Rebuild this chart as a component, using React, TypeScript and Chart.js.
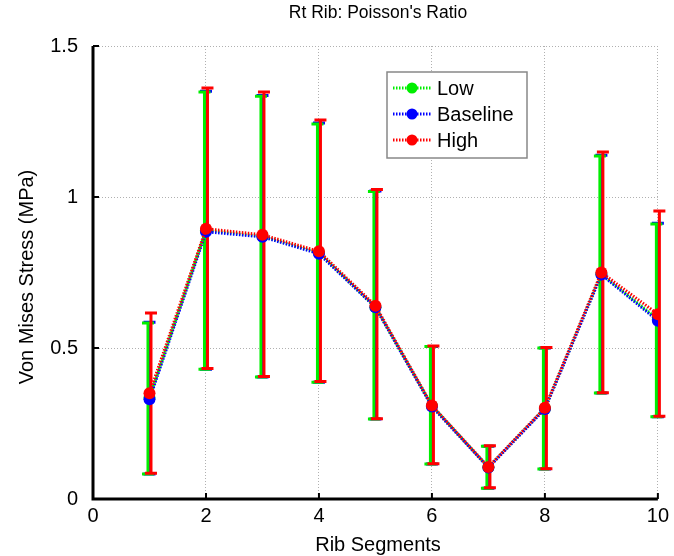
import React, { useEffect, useRef } from "react";
import { Chart, registerables } from "chart.js";

Chart.register(...registerables);

const segments = [1, 2, 3, 4, 5, 6, 7, 8, 9, 10];

const lowValues = [0.335, 0.89, 0.87, 0.815, 0.635, 0.308, 0.105, 0.3, 0.745, 0.595];
const baselineValues = [0.33, 0.885, 0.868, 0.812, 0.635, 0.306, 0.104, 0.298, 0.743, 0.59];
const highValues = [0.35, 0.895, 0.875, 0.82, 0.64, 0.31, 0.106, 0.302, 0.75, 0.612];

const lowUpper = [0.583, 1.348, 1.334, 1.242, 1.018, 0.505, 0.175, 0.5, 1.136, 0.911];
const lowLower = [0.083, 0.43, 0.404, 0.387, 0.265, 0.116, 0.036, 0.099, 0.351, 0.272];
const baselineUpper = [0.585, 1.35, 1.336, 1.245, 1.02, 0.505, 0.175, 0.5, 1.138, 0.913];
const baselineLower = [0.083, 0.43, 0.404, 0.387, 0.265, 0.116, 0.036, 0.099, 0.351, 0.272];
const highUpper = [0.616, 1.361, 1.348, 1.255, 1.025, 0.507, 0.176, 0.502, 1.149, 0.954];
const highLower = [0.085, 0.432, 0.406, 0.389, 0.266, 0.117, 0.037, 0.1, 0.352, 0.274];

const xTicks = [0, 2, 4, 6, 8, 10];
const yTicks = [0, 0.5, 1, 1.5];

const FONT = "'Liberation Sans', Arial, sans-serif";

const seriesStyle = [
  { label: "Low", color: "#00ee00", values: lowValues, upper: lowUpper, lower: lowLower, off: -1.5, order: 2 },
  { label: "Baseline", color: "#0000ff", values: baselineValues, upper: baselineUpper, lower: baselineLower, off: 0, order: 1 },
  { label: "High", color: "#ff0000", values: highValues, upper: highUpper, lower: highLower, off: 1.5, order: 0 },
];

const barDrawOrder = [1, 0, 2];

const decorPlugin = {
  id: "decor",
  beforeDatasetsDraw(chart: any) {
    const { ctx, scales } = chart;
    const xs = scales.x;
    const ys = scales.y;
    ctx.save();
    barDrawOrder.forEach((k) => {
      const s = seriesStyle[k];
      ctx.strokeStyle = s.color;
      ctx.lineWidth = 3;
      segments.forEach((seg, i) => {
        const px = xs.getPixelForValue(seg) + s.off;
        const top = ys.getPixelForValue(s.upper[i]);
        const bot = ys.getPixelForValue(s.lower[i]);
        ctx.beginPath();
        ctx.moveTo(px, top);
        ctx.lineTo(px, bot);
        ctx.moveTo(px - 6, top);
        ctx.lineTo(px + 6, top);
        ctx.moveTo(px - 6, bot);
        ctx.lineTo(px + 6, bot);
        ctx.stroke();
      });
    });
    ctx.restore();
  },
  afterDraw(chart: any) {
    const { ctx, chartArea, scales } = chart;
    const xs = scales.x;
    const ys = scales.y;
    ctx.save();
    ctx.strokeStyle = "#000";
    ctx.lineWidth = 2;
    xTicks.forEach((t) => {
      const px = xs.getPixelForValue(t);
      ctx.beginPath();
      ctx.moveTo(px, chartArea.bottom);
      ctx.lineTo(px, chartArea.bottom - 6);
      ctx.stroke();
    });
    yTicks.forEach((t) => {
      const py = ys.getPixelForValue(t);
      ctx.beginPath();
      ctx.moveTo(chartArea.left, py);
      ctx.lineTo(chartArea.left + 6, py);
      ctx.stroke();
    });
    ctx.lineWidth = 3;
    ctx.beginPath();
    ctx.moveTo(chartArea.left, chartArea.top);
    ctx.lineTo(chartArea.left, chartArea.bottom);
    ctx.lineTo(chartArea.right, chartArea.bottom);
    ctx.stroke();

    ctx.fillStyle = "#000";
    ctx.font = `17.5px ${FONT}`;
    ctx.textAlign = "center";
    ctx.textBaseline = "middle";
    ctx.fillText("Rt Rib: Poisson's Ratio", 378, 13);
    ctx.font = `20px ${FONT}`;
    ctx.fillText("Rib Segments", 378, 545);
    ctx.save();
    ctx.translate(27, 277);
    ctx.rotate(-Math.PI / 2);
    ctx.fillText("Von Mises Stress (MPa)", 0, 0);
    ctx.restore();

    const lx = 387, ly = 72, lw = 140, lh = 86;
    ctx.fillStyle = "#fff";
    ctx.fillRect(lx, ly, lw, lh);
    ctx.strokeStyle = "#888";
    ctx.lineWidth = 1.5;
    ctx.strokeRect(lx, ly, lw, lh);
    seriesStyle.forEach((s, i) => {
      const cy = 88 + i * 26;
      ctx.strokeStyle = s.color;
      ctx.lineWidth = 3;
      ctx.setLineDash([1.5, 1.5]);
      ctx.beginPath();
      ctx.moveTo(393, cy);
      ctx.lineTo(432, cy);
      ctx.stroke();
      ctx.setLineDash([]);
      ctx.fillStyle = s.color;
      ctx.beginPath();
      ctx.arc(412, cy, 5.5, 0, Math.PI * 2);
      ctx.fill();
      ctx.fillStyle = "#000";
      ctx.font = `20px ${FONT}`;
      ctx.textAlign = "left";
      ctx.fillText(s.label, 437, cy + 1);
    });
    ctx.restore();
  },
};

export default function App() {
  const canvasRef = useRef<HTMLCanvasElement | null>(null);

  useEffect(() => {
    document.body.style.margin = "0";
    const canvas = canvasRef.current;
    if (!canvas) return;
    const chart = new Chart(canvas, {
      type: "line",
      data: {
        datasets: seriesStyle.map((s) => ({
          label: s.label,
          order: s.order,
          data: segments.map((x, i) => ({ x, y: s.values[i] })),
          borderColor: s.color,
          backgroundColor: s.color,
          borderWidth: 3,
          borderDash: [1.5, 1.5],
          pointRadius: 6,
          pointBorderWidth: 0,
          pointBackgroundColor: s.color,
          tension: 0,
          fill: false,
        })),
      },
      options: {
        animation: false,
        responsive: false,
        maintainAspectRatio: false,
        layout: { padding: { top: 46, right: 15, left: 0, bottom: 0 } },
        plugins: {
          legend: { display: false },
          title: { display: false },
          tooltip: { enabled: false },
        },
        scales: {
          x: {
            type: "linear",
            min: 0,
            max: 10,
            afterBuildTicks: (scale: any) => {
              scale.ticks = xTicks.map((v) => ({ value: v }));
            },
            afterFit: (scale: any) => {
              scale.height = 57;
            },
            ticks: {
              color: "#000",
              font: { family: FONT, size: 20 },
              padding: 5,
              maxRotation: 0,
              callback: (v: any) => String(v),
            },
            grid: {
              color: (c: any) => (c.tick && c.tick.value === 0 ? "rgba(0,0,0,0)" : "#b0b0b0"),
              lineWidth: 1,
              drawTicks: false,
            },
            border: { display: false, dash: [1, 2] },
          },
          y: {
            type: "linear",
            min: 0,
            max: 1.5,
            afterBuildTicks: (scale: any) => {
              scale.ticks = yTicks.map((v) => ({ value: v }));
            },
            afterFit: (scale: any) => {
              scale.width = 93;
            },
            ticks: {
              color: "#000",
              font: { family: FONT, size: 20 },
              padding: 15,
              callback: (v: any) => String(v),
            },
            grid: {
              color: (c: any) => (c.tick && c.tick.value === 0 ? "rgba(0,0,0,0)" : "#b0b0b0"),
              lineWidth: 1,
              drawTicks: false,
            },
            border: { display: false, dash: [1, 2] },
          },
        },
      },
      plugins: [decorPlugin],
    } as any);
    return () => chart.destroy();
  }, []);

  return (
    <div style={{ width: 674, height: 556 }}>
      <canvas ref={canvasRef} width={674} height={556} style={{ display: "block" }} />
    </div>
  );
}
